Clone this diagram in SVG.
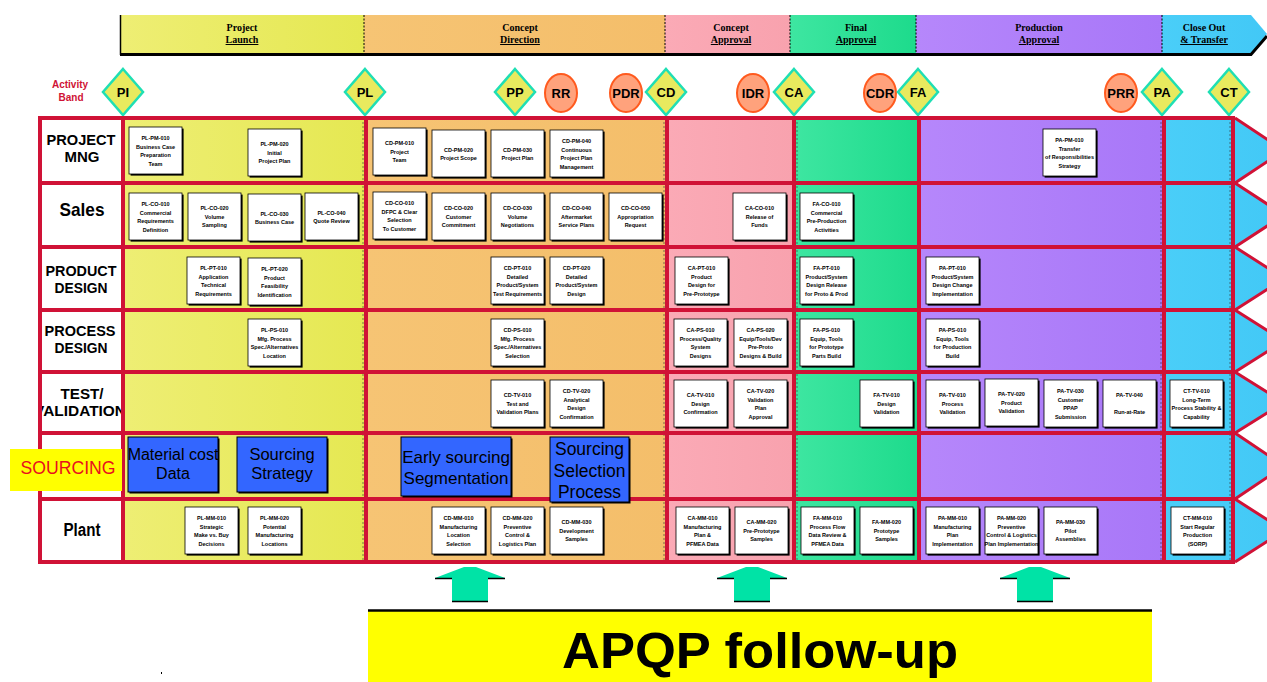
<svg xmlns="http://www.w3.org/2000/svg" width="1267" height="682" viewBox="0 0 1267 682">
<defs>
<linearGradient id="gY" x1="0" x2="1"><stop offset="0" stop-color="#EEEE74"/><stop offset="1" stop-color="#E5E852"/></linearGradient>
<linearGradient id="gO" x1="0" x2="1"><stop offset="0" stop-color="#F6C474"/><stop offset="1" stop-color="#F4BE6A"/></linearGradient>
<linearGradient id="gPk" x1="0" x2="1"><stop offset="0" stop-color="#FBAAB6"/><stop offset="1" stop-color="#F8A2AE"/></linearGradient>
<linearGradient id="gG" x1="0" x2="1"><stop offset="0" stop-color="#3EE6A1"/><stop offset="1" stop-color="#1DDB8C"/></linearGradient>
<linearGradient id="gPu" x1="0" x2="1"><stop offset="0" stop-color="#B687FB"/><stop offset="1" stop-color="#A877F8"/></linearGradient>
<linearGradient id="gB" x1="0" x2="1"><stop offset="0" stop-color="#4ACEF8"/><stop offset="1" stop-color="#42C8F6"/></linearGradient>
<g id="box"><rect x="1.6" y="1.6" width="53" height="47" fill="#000"/><rect width="53" height="47" fill="#fff" stroke="#000" stroke-width="0.8"/></g>
<clipPath id="lblclip"><rect x="42" y="118" width="79" height="444"/></clipPath>
</defs>
<style>
.bt{font-family:"Liberation Sans",Arial,sans-serif;font-size:5.5px;font-weight:bold;text-anchor:middle;fill:#000}
.hd{font-family:"Liberation Serif","Times New Roman",serif;font-size:10px;font-weight:bold;text-anchor:middle;fill:#000}
.lb{font-family:"Liberation Sans",Arial,sans-serif;font-weight:bold;text-anchor:middle;fill:#000}
.ms{font-family:"Liberation Sans",Arial,sans-serif;font-weight:bold;font-size:13px;text-anchor:middle;fill:#000}
.dia{fill:#E8EA5E;stroke:#1FDFB4;stroke-width:2.5}
.ov{fill:#FFA27C;stroke:#FF5A1E;stroke-width:2}
.red{stroke:#D01236;stroke-width:4;fill:none}
.thin{stroke:#333;stroke-width:1;stroke-dasharray:2 2;opacity:0.6}
.sb{font-family:"Liberation Sans",Arial,sans-serif;text-anchor:middle;fill:#000}
.blue{fill:#3366FF;stroke:#000;stroke-width:1}
.arr{fill:#00E3A6}
</style>
<rect width="1267" height="682" fill="#fff"/>

<g id="header">
<rect x="120" y="15" width="244" height="39" fill="url(#gY)"/>
<rect x="364" y="15" width="301" height="39" fill="url(#gO)"/>
<rect x="665" y="15" width="125" height="39" fill="url(#gPk)"/>
<rect x="790" y="15" width="126" height="39" fill="url(#gG)"/>
<rect x="916" y="15" width="246" height="39" fill="url(#gPu)"/>
<polygon points="1162,15 1251,15 1267,34 1251,54 1162,54" fill="url(#gB)"/>
<g stroke="#000" stroke-width="1" stroke-dasharray="2 1.5">
<line x1="364" y1="15" x2="364" y2="54"/><line x1="665" y1="15" x2="665" y2="54"/><line x1="790" y1="15" x2="790" y2="54"/><line x1="916" y1="15" x2="916" y2="54"/><line x1="1162" y1="15" x2="1162" y2="54"/>
</g>
<line x1="120.5" y1="15" x2="120.5" y2="55" stroke="#000" stroke-width="1.5"/>
<polyline points="120,54.5 1251,54.5 1267,36" stroke="#000" stroke-width="3" fill="none"/>
<text class="hd" x="242" y="31">Project</text><text class="hd" x="242" y="43" text-decoration="underline">Launch</text>
<text class="hd" x="520" y="31">Concept</text><text class="hd" x="520" y="43" text-decoration="underline">Direction</text>
<text class="hd" x="731" y="31">Concept</text><text class="hd" x="731" y="43" text-decoration="underline">Approval</text>
<text class="hd" x="856" y="31">Final</text><text class="hd" x="856" y="43" text-decoration="underline">Approval</text>
<text class="hd" x="1039" y="31">Production</text><text class="hd" x="1039" y="43" text-decoration="underline">Approval</text>
<text class="hd" x="1204" y="31">Close Out</text><text class="hd" x="1204" y="43" text-decoration="underline">&amp; Transfer</text>
</g>

<g id="activity-band">
<text x="70" y="88" font-family="Liberation Sans, Arial, sans-serif" font-size="10" font-weight="bold" fill="#D01236" text-anchor="middle">Activity</text>
<text x="71" y="101" font-family="Liberation Sans, Arial, sans-serif" font-size="10" font-weight="bold" fill="#D01236" text-anchor="middle">Band</text>
</g>

<g id="m-PI"><polygon class="dia" points="123,69 143,92 123,115 103,92"/><text class="ms" x="123" y="97">PI</text></g>
<g id="m-PL"><polygon class="dia" points="365,69 385,92 365,115 345,92"/><text class="ms" x="365" y="97">PL</text></g>
<g id="m-PP"><polygon class="dia" points="515,69 535,92 515,115 495,92"/><text class="ms" x="515" y="97">PP</text></g>
<g id="m-RR"><ellipse class="ov" cx="561" cy="93" rx="16" ry="19"/><text class="ms" x="561" y="98">RR</text></g>
<g id="m-PDR"><ellipse class="ov" cx="626" cy="93" rx="16" ry="19"/><text class="ms" x="626" y="98">PDR</text></g>
<g id="m-CD"><polygon class="dia" points="666,69 686,92 666,115 646,92"/><text class="ms" x="666" y="97">CD</text></g>
<g id="m-IDR"><ellipse class="ov" cx="753" cy="93" rx="16" ry="19"/><text class="ms" x="753" y="98">IDR</text></g>
<g id="m-CA"><polygon class="dia" points="794,69 814,92 794,115 774,92"/><text class="ms" x="794" y="97">CA</text></g>
<g id="m-CDR"><ellipse class="ov" cx="880" cy="93" rx="16" ry="19"/><text class="ms" x="880" y="98">CDR</text></g>
<g id="m-FA"><polygon class="dia" points="918,69 938,92 918,115 898,92"/><text class="ms" x="918" y="97">FA</text></g>
<g id="m-PRR"><ellipse class="ov" cx="1121" cy="93" rx="16" ry="19"/><text class="ms" x="1121" y="98">PRR</text></g>
<g id="m-PA"><polygon class="dia" points="1162,69 1182,92 1162,115 1142,92"/><text class="ms" x="1162" y="97">PA</text></g>
<g id="m-CT"><polygon class="dia" points="1229,69 1249,92 1229,115 1209,92"/><text class="ms" x="1229" y="97">CT</text></g>

<g id="grid">
<rect x="40" y="118" width="83" height="444" fill="#fff"/>
<rect x="123" y="118" width="243" height="444" fill="url(#gY)"/>
<rect x="366" y="118" width="301" height="444" fill="url(#gO)"/>
<rect x="667" y="118" width="127" height="444" fill="url(#gPk)"/>
<rect x="794" y="118" width="125" height="444" fill="url(#gG)"/>
<rect x="919" y="118" width="245" height="444" fill="url(#gPu)"/>
<polygon points="1164,118 1235,118 1284,150.5 1235,183 1284,215 1235,247 1284,278.5 1235,310 1284,341 1235,372 1284,402.5 1235,433 1284,466 1235,499 1284,530.5 1235,562 1164,562" fill="url(#gB)"/>
<g class="thin">
<line x1="363" y1="118" x2="363" y2="562"/><line x1="664" y1="118" x2="664" y2="562"/><line x1="797" y1="118" x2="797" y2="562"/><line x1="1161" y1="118" x2="1161" y2="562"/><line x1="1230" y1="118" x2="1230" y2="562"/>
</g>
<g class="red">
<line x1="38" y1="118" x2="1235" y2="118"/>
<line x1="40" y1="183" x2="1235" y2="183"/>
<line x1="40" y1="247" x2="1235" y2="247"/>
<line x1="40" y1="310" x2="1235" y2="310"/>
<line x1="40" y1="372" x2="1235" y2="372"/>
<line x1="40" y1="433" x2="1235" y2="433"/>
<line x1="40" y1="499" x2="1235" y2="499"/>
<line x1="38" y1="562" x2="1235" y2="562"/>
<line x1="40" y1="116" x2="40" y2="564"/>
<line x1="123" y1="118" x2="123" y2="562"/>
<line x1="366" y1="118" x2="366" y2="562"/>
<line x1="667" y1="118" x2="667" y2="562"/>
<line x1="794" y1="118" x2="794" y2="562"/>
<line x1="919" y1="118" x2="919" y2="562"/>
<line x1="1164" y1="118" x2="1164" y2="562"/>
<line x1="1233" y1="118" x2="1233" y2="562"/>
<polyline stroke-width="3" points="1235,118 1284,150.5 1235,183 1284,215 1235,247 1284,278.5 1235,310 1284,341 1235,372 1284,402.5 1235,433 1284,466 1235,499 1284,530.5 1235,562"/>
</g>
</g>

<g id="row-labels" clip-path="url(#lblclip)">
<text class="lb" x="81" y="145" font-size="15" textLength="69" lengthAdjust="spacingAndGlyphs">PROJECT</text>
<text class="lb" x="82" y="162" font-size="15" textLength="35" lengthAdjust="spacingAndGlyphs">MNG</text>
<text class="lb" x="82" y="216" font-size="19" textLength="45" lengthAdjust="spacingAndGlyphs">Sales</text>
<text class="lb" x="81" y="276" font-size="15" textLength="71" lengthAdjust="spacingAndGlyphs">PRODUCT</text>
<text class="lb" x="81" y="293" font-size="15" textLength="53" lengthAdjust="spacingAndGlyphs">DESIGN</text>
<text class="lb" x="80" y="336" font-size="15" textLength="71" lengthAdjust="spacingAndGlyphs">PROCESS</text>
<text class="lb" x="81" y="353" font-size="15" textLength="53" lengthAdjust="spacingAndGlyphs">DESIGN</text>
<text class="lb" x="82" y="399" font-size="15" textLength="43" lengthAdjust="spacingAndGlyphs">TEST/</text>
<text class="lb" x="80" y="416" font-size="15" textLength="92" lengthAdjust="spacingAndGlyphs">VALIDATION</text>
<text class="lb" x="82" y="536" font-size="18" textLength="37" lengthAdjust="spacingAndGlyphs">Plant</text>
</g>
<g id="label-sourcing">
<rect x="10" y="449" width="112" height="42" fill="#FFFF00"/>
<text x="68" y="474" font-family="Liberation Sans, Arial, sans-serif" font-size="19" fill="#E8101E" text-anchor="middle" textLength="95" lengthAdjust="spacingAndGlyphs">SOURCING</text>
</g>

<!-- PROJECT MNG -->
<g id="PL-PM-010" transform="translate(129,127)"><use href="#box"/><text class="bt"><tspan x="26.5" y="13">PL-PM-010</tspan><tspan x="26.5" y="21.5">Business Case</tspan><tspan x="26.5" y="30">Preparation</tspan><tspan x="26.5" y="38.5">Team</tspan></text></g>
<g id="PL-PM-020" transform="translate(248,129)"><use href="#box"/><text class="bt"><tspan x="26.5" y="17.25">PL-PM-020</tspan><tspan x="26.5" y="25.75">Initial</tspan><tspan x="26.5" y="34.25">Project Plan</tspan></text></g>
<g id="CD-PM-010" transform="translate(373,128)"><use href="#box"/><text class="bt"><tspan x="26.5" y="17.25">CD-PM-010</tspan><tspan x="26.5" y="25.75">Project</tspan><tspan x="26.5" y="34.25">Team</tspan></text></g>
<g id="CD-PM-020" transform="translate(432,130)"><use href="#box"/><text class="bt"><tspan x="26.5" y="21.5">CD-PM-020</tspan><tspan x="26.5" y="30">Project Scope</tspan></text></g>
<g id="CD-PM-030" transform="translate(491,130)"><use href="#box"/><text class="bt"><tspan x="26.5" y="21.5">CD-PM-030</tspan><tspan x="26.5" y="30">Project Plan</tspan></text></g>
<g id="CD-PM-040" transform="translate(550,130)"><use href="#box"/><text class="bt"><tspan x="26.5" y="13">CD-PM-040</tspan><tspan x="26.5" y="21.5">Continuous</tspan><tspan x="26.5" y="30">Project Plan</tspan><tspan x="26.5" y="38.5">Management</tspan></text></g>
<g id="PA-PM-010" transform="translate(1043,129)"><use href="#box"/><text class="bt"><tspan x="26.5" y="13">PA-PM-010</tspan><tspan x="26.5" y="21.5">Transfer</tspan><tspan x="26.5" y="30">of Responsibilities</tspan><tspan x="26.5" y="38.5">Strategy</tspan></text></g>

<!-- Sales -->
<g id="PL-CO-010" transform="translate(129,193)"><use href="#box"/><text class="bt"><tspan x="26.5" y="13">PL-CO-010</tspan><tspan x="26.5" y="21.5">Commercial</tspan><tspan x="26.5" y="30">Requirements</tspan><tspan x="26.5" y="38.5">Definition</tspan></text></g>
<g id="PL-CO-020" transform="translate(188,193)"><use href="#box"/><text class="bt"><tspan x="26.5" y="17.25">PL-CO-020</tspan><tspan x="26.5" y="25.75">Volume</tspan><tspan x="26.5" y="34.25">Sampling</tspan></text></g>
<g id="PL-CO-030" transform="translate(248,194)"><use href="#box"/><text class="bt"><tspan x="26.5" y="21.5">PL-CO-030</tspan><tspan x="26.5" y="30">Business Case</tspan></text></g>
<g id="PL-CO-040" transform="translate(305,193)"><use href="#box"/><text class="bt"><tspan x="26.5" y="21.5">PL-CO-040</tspan><tspan x="26.5" y="30">Quote Review</tspan></text></g>
<g id="CD-CO-010" transform="translate(373,192)"><use href="#box"/><text class="bt"><tspan x="26.5" y="13">CD-CO-010</tspan><tspan x="26.5" y="21.5">DFPC &amp; Clear</tspan><tspan x="26.5" y="30">Selection</tspan><tspan x="26.5" y="38.5">To Customer</tspan></text></g>
<g id="CD-CO-020" transform="translate(432,193)"><use href="#box"/><text class="bt"><tspan x="26.5" y="17.25">CD-CO-020</tspan><tspan x="26.5" y="25.75">Customer</tspan><tspan x="26.5" y="34.25">Commitment</tspan></text></g>
<g id="CD-CO-030" transform="translate(491,193)"><use href="#box"/><text class="bt"><tspan x="26.5" y="17.25">CD-CO-030</tspan><tspan x="26.5" y="25.75">Volume</tspan><tspan x="26.5" y="34.25">Negotiations</tspan></text></g>
<g id="CD-CO-040" transform="translate(550,193)"><use href="#box"/><text class="bt"><tspan x="26.5" y="17.25">CD-CO-040</tspan><tspan x="26.5" y="25.75">Aftermarket</tspan><tspan x="26.5" y="34.25">Service Plans</tspan></text></g>
<g id="CD-CO-050" transform="translate(609,193)"><use href="#box"/><text class="bt"><tspan x="26.5" y="17.25">CD-CO-050</tspan><tspan x="26.5" y="25.75">Appropriation</tspan><tspan x="26.5" y="34.25">Request</tspan></text></g>
<g id="CA-CO-010" transform="translate(733,193)"><use href="#box"/><text class="bt"><tspan x="26.5" y="17.25">CA-CO-010</tspan><tspan x="26.5" y="25.75">Release of</tspan><tspan x="26.5" y="34.25">Funds</tspan></text></g>
<g id="FA-CO-010" transform="translate(800,193)"><use href="#box"/><text class="bt"><tspan x="26.5" y="13">FA-CO-010</tspan><tspan x="26.5" y="21.5">Commercial</tspan><tspan x="26.5" y="30">Pre-Production</tspan><tspan x="26.5" y="38.5">Activities</tspan></text></g>

<!-- PRODUCT DESIGN -->
<g id="PL-PT-010" transform="translate(187,257)"><use href="#box"/><text class="bt"><tspan x="26.5" y="13">PL-PT-010</tspan><tspan x="26.5" y="21.5">Application</tspan><tspan x="26.5" y="30">Technical</tspan><tspan x="26.5" y="38.5">Requirements</tspan></text></g>
<g id="PL-PT-020" transform="translate(248,258)"><use href="#box"/><text class="bt"><tspan x="26.5" y="13">PL-PT-020</tspan><tspan x="26.5" y="21.5">Product</tspan><tspan x="26.5" y="30">Feasibility</tspan><tspan x="26.5" y="38.5">Identification</tspan></text></g>
<g id="CD-PT-010" transform="translate(491,257)"><use href="#box"/><text class="bt"><tspan x="26.5" y="13">CD-PT-010</tspan><tspan x="26.5" y="21.5">Detailed</tspan><tspan x="26.5" y="30">Product/System</tspan><tspan x="26.5" y="38.5">Test Requirements</tspan></text></g>
<g id="CD-PT-020" transform="translate(550,257)"><use href="#box"/><text class="bt"><tspan x="26.5" y="13">CD-PT-020</tspan><tspan x="26.5" y="21.5">Detailed</tspan><tspan x="26.5" y="30">Product/System</tspan><tspan x="26.5" y="38.5">Design</tspan></text></g>
<g id="CA-PT-010" transform="translate(675,257)"><use href="#box"/><text class="bt"><tspan x="26.5" y="13">CA-PT-010</tspan><tspan x="26.5" y="21.5">Product</tspan><tspan x="26.5" y="30">Design for</tspan><tspan x="26.5" y="38.5">Pre-Prototype</tspan></text></g>
<g id="FA-PT-010" transform="translate(800,257)"><use href="#box"/><text class="bt"><tspan x="26.5" y="13">FA-PT-010</tspan><tspan x="26.5" y="21.5">Product/System</tspan><tspan x="26.5" y="30">Design Release</tspan><tspan x="26.5" y="38.5">for Proto &amp; Prod</tspan></text></g>
<g id="PA-PT-010" transform="translate(926,257)"><use href="#box"/><text class="bt"><tspan x="26.5" y="13">PA-PT-010</tspan><tspan x="26.5" y="21.5">Product/System</tspan><tspan x="26.5" y="30">Design Change</tspan><tspan x="26.5" y="38.5">Implementation</tspan></text></g>

<!-- PROCESS DESIGN -->
<g id="PL-PS-010" transform="translate(248,319)"><use href="#box"/><text class="bt"><tspan x="26.5" y="13">PL-PS-010</tspan><tspan x="26.5" y="21.5">Mfg. Process</tspan><tspan x="26.5" y="30">Spec./Alternatives</tspan><tspan x="26.5" y="38.5">Location</tspan></text></g>
<g id="CD-PS-010" transform="translate(491,319)"><use href="#box"/><text class="bt"><tspan x="26.5" y="13">CD-PS-010</tspan><tspan x="26.5" y="21.5">Mfg. Process</tspan><tspan x="26.5" y="30">Spec./Alternatives</tspan><tspan x="26.5" y="38.5">Selection</tspan></text></g>
<g id="CA-PS-010" transform="translate(674,319)"><use href="#box"/><text class="bt"><tspan x="26.5" y="13">CA-PS-010</tspan><tspan x="26.5" y="21.5">Process/Quality</tspan><tspan x="26.5" y="30">System</tspan><tspan x="26.5" y="38.5">Designs</tspan></text></g>
<g id="CA-PS-020" transform="translate(734,319)"><use href="#box"/><text class="bt"><tspan x="26.5" y="13">CA-PS-020</tspan><tspan x="26.5" y="21.5">Equip/Tools/Dev</tspan><tspan x="26.5" y="30">Pre-Proto</tspan><tspan x="26.5" y="38.5">Designs &amp; Build</tspan></text></g>
<g id="FA-PS-010" transform="translate(800,319)"><use href="#box"/><text class="bt"><tspan x="26.5" y="13">FA-PS-010</tspan><tspan x="26.5" y="21.5">Equip, Tools</tspan><tspan x="26.5" y="30">for Prototype</tspan><tspan x="26.5" y="38.5">Parts Build</tspan></text></g>
<g id="PA-PS-010" transform="translate(926,319)"><use href="#box"/><text class="bt"><tspan x="26.5" y="13">PA-PS-010</tspan><tspan x="26.5" y="21.5">Equip, Tools</tspan><tspan x="26.5" y="30">for Production</tspan><tspan x="26.5" y="38.5">Build</tspan></text></g>

<!-- TEST / VALIDATION -->
<g id="CD-TV-010" transform="translate(491,380)"><use href="#box"/><text class="bt"><tspan x="26.5" y="17.25">CD-TV-010</tspan><tspan x="26.5" y="25.75">Test and</tspan><tspan x="26.5" y="34.25">Validation Plans</tspan></text></g>
<g id="CD-TV-020" transform="translate(550,380)"><use href="#box"/><text class="bt"><tspan x="26.5" y="13">CD-TV-020</tspan><tspan x="26.5" y="21.5">Analytical</tspan><tspan x="26.5" y="30">Design</tspan><tspan x="26.5" y="38.5">Confirmation</tspan></text></g>
<g id="CA-TV-010" transform="translate(674,380)"><use href="#box"/><text class="bt"><tspan x="26.5" y="17.25">CA-TV-010</tspan><tspan x="26.5" y="25.75">Design</tspan><tspan x="26.5" y="34.25">Confirmation</tspan></text></g>
<g id="CA-TV-020" transform="translate(734,380)"><use href="#box"/><text class="bt"><tspan x="26.5" y="13">CA-TV-020</tspan><tspan x="26.5" y="21.5">Validation</tspan><tspan x="26.5" y="30">Plan</tspan><tspan x="26.5" y="38.5">Approval</tspan></text></g>
<g id="FA-TV-010" transform="translate(860,380)"><use href="#box"/><text class="bt"><tspan x="26.5" y="17.25">FA-TV-010</tspan><tspan x="26.5" y="25.75">Design</tspan><tspan x="26.5" y="34.25">Validation</tspan></text></g>
<g id="PA-TV-010" transform="translate(926,380)"><use href="#box"/><text class="bt"><tspan x="26.5" y="17.25">PA-TV-010</tspan><tspan x="26.5" y="25.75">Process</tspan><tspan x="26.5" y="34.25">Validation</tspan></text></g>
<g id="PA-TV-020" transform="translate(985,379)"><use href="#box"/><text class="bt"><tspan x="26.5" y="17.25">PA-TV-020</tspan><tspan x="26.5" y="25.75">Product</tspan><tspan x="26.5" y="34.25">Validation</tspan></text></g>
<g id="PA-TV-030" transform="translate(1044,380)"><use href="#box"/><text class="bt"><tspan x="26.5" y="13">PA-TV-030</tspan><tspan x="26.5" y="21.5">Customer</tspan><tspan x="26.5" y="30">PPAP</tspan><tspan x="26.5" y="38.5">Submission</tspan></text></g>
<g id="PA-TV-040" transform="translate(1103,380)"><use href="#box"/><text class="bt"><tspan x="26.5" y="17.25">PA-TV-040</tspan><tspan x="26.5" y="34.25">Run-at-Rate</tspan></text></g>
<g id="CT-TV-010" transform="translate(1170,380)"><use href="#box"/><text class="bt"><tspan x="26.5" y="13">CT-TV-010</tspan><tspan x="26.5" y="21.5">Long-Term</tspan><tspan x="26.5" y="30">Process Stability &amp;</tspan><tspan x="26.5" y="38.5">Capability</tspan></text></g>

<!-- SOURCING -->
<g id="src-material-cost"><rect x="129.5" y="438.5" width="90" height="55" fill="#000"/><rect class="blue" x="128" y="437" width="90" height="55"/><text class="sb" font-size="16" x="173" y="460">Material cost</text><text class="sb" font-size="16" x="173" y="479">Data</text></g>
<g id="src-strategy"><rect x="238.5" y="438.5" width="90" height="55" fill="#000"/><rect class="blue" x="237" y="437" width="90" height="55"/><text class="sb" font-size="16.5" x="282" y="460">Sourcing</text><text class="sb" font-size="16.5" x="282" y="479">Strategy</text></g>
<g id="src-early"><rect x="402.5" y="438.5" width="110" height="59" fill="#000"/><rect class="blue" x="401" y="437" width="110" height="59"/><text class="sb" font-size="17" x="456" y="463">Early sourcing</text><text class="sb" font-size="17" x="456" y="484">Segmentation</text></g>
<g id="src-selection"><rect x="551.5" y="438.5" width="79" height="65" fill="#000"/><rect class="blue" x="550" y="437" width="79" height="65"/><text class="sb" font-size="17.5" x="589.5" y="455">Sourcing</text><text class="sb" font-size="17.5" x="589.5" y="477">Selection</text><text class="sb" font-size="17.5" x="589.5" y="498">Process</text></g>

<!-- Plant -->
<g id="PL-MM-010" transform="translate(185,507)"><use href="#box"/><text class="bt"><tspan x="26.5" y="13">PL-MM-010</tspan><tspan x="26.5" y="21.5">Strategic</tspan><tspan x="26.5" y="30">Make vs. Buy</tspan><tspan x="26.5" y="38.5">Decisions</tspan></text></g>
<g id="PL-MM-020" transform="translate(248,507)"><use href="#box"/><text class="bt"><tspan x="26.5" y="13">PL-MM-020</tspan><tspan x="26.5" y="21.5">Potential</tspan><tspan x="26.5" y="30">Manufacturing</tspan><tspan x="26.5" y="38.5">Locations</tspan></text></g>
<g id="CD-MM-010" transform="translate(432,507)"><use href="#box"/><text class="bt"><tspan x="26.5" y="13">CD-MM-010</tspan><tspan x="26.5" y="21.5">Manufacturing</tspan><tspan x="26.5" y="30">Location</tspan><tspan x="26.5" y="38.5">Selection</tspan></text></g>
<g id="CD-MM-020" transform="translate(491,507)"><use href="#box"/><text class="bt"><tspan x="26.5" y="13">CD-MM-020</tspan><tspan x="26.5" y="21.5">Preventive</tspan><tspan x="26.5" y="30">Control &amp;</tspan><tspan x="26.5" y="38.5">Logistics Plan</tspan></text></g>
<g id="CD-MM-030" transform="translate(550,507)"><use href="#box"/><text class="bt"><tspan x="26.5" y="17.25">CD-MM-030</tspan><tspan x="26.5" y="25.75">Development</tspan><tspan x="26.5" y="34.25">Samples</tspan></text></g>
<g id="CA-MM-010" transform="translate(676,507)"><use href="#box"/><text class="bt"><tspan x="26.5" y="13">CA-MM-010</tspan><tspan x="26.5" y="21.5">Manufacturing</tspan><tspan x="26.5" y="30">Plan &amp;</tspan><tspan x="26.5" y="38.5">PFMEA Data</tspan></text></g>
<g id="CA-MM-020" transform="translate(735,507)"><use href="#box"/><text class="bt"><tspan x="26.5" y="17.25">CA-MM-020</tspan><tspan x="26.5" y="25.75">Pre-Prototype</tspan><tspan x="26.5" y="34.25">Samples</tspan></text></g>
<g id="FA-MM-010" transform="translate(801,507)"><use href="#box"/><text class="bt"><tspan x="26.5" y="13">FA-MM-010</tspan><tspan x="26.5" y="21.5">Process Flow</tspan><tspan x="26.5" y="30">Data Review &amp;</tspan><tspan x="26.5" y="38.5">PFMEA Data</tspan></text></g>
<g id="FA-MM-020" transform="translate(860,507)"><use href="#box"/><text class="bt"><tspan x="26.5" y="17.25">FA-MM-020</tspan><tspan x="26.5" y="25.75">Prototype</tspan><tspan x="26.5" y="34.25">Samples</tspan></text></g>
<g id="PA-MM-010" transform="translate(926,507)"><use href="#box"/><text class="bt"><tspan x="26.5" y="13">PA-MM-010</tspan><tspan x="26.5" y="21.5">Manufacturing</tspan><tspan x="26.5" y="30">Plan</tspan><tspan x="26.5" y="38.5">Implementation</tspan></text></g>
<g id="PA-MM-020" transform="translate(985,507)"><use href="#box"/><text class="bt"><tspan x="26.5" y="13">PA-MM-020</tspan><tspan x="26.5" y="21.5">Preventive</tspan><tspan x="26.5" y="30">Control &amp; Logistics</tspan><tspan x="26.5" y="38.5">Plan Implementation</tspan></text></g>
<g id="PA-MM-030" transform="translate(1044,507)"><use href="#box"/><text class="bt"><tspan x="26.5" y="17.25">PA-MM-030</tspan><tspan x="26.5" y="25.75">Pilot</tspan><tspan x="26.5" y="34.25">Assemblies</tspan></text></g>
<g id="CT-MM-010" transform="translate(1171,507)"><use href="#box"/><text class="bt"><tspan x="26.5" y="13">CT-MM-010</tspan><tspan x="26.5" y="21.5">Start Regular</tspan><tspan x="26.5" y="30">Production</tspan><tspan x="26.5" y="38.5">(SORP)</tspan></text></g>

<g id="connectors">
<g id="arrow-1"><polygon class="arr" points="464,567 476,567 505,578 488,578 488,601 452,601 452,578 435,578"/><path d="M435,578.5 H452 M488,578.5 H505 M452,601.5 H488" stroke="#000" stroke-width="1.5" fill="none"/></g>
<g id="arrow-2"><polygon class="arr" points="746,567 758,567 787,578 770,578 770,601 734,601 734,578 717,578"/><path d="M717,578.5 H734 M770,578.5 H787 M734,601.5 H770" stroke="#000" stroke-width="1.5" fill="none"/></g>
<g id="arrow-3"><polygon class="arr" points="1029,567 1041,567 1070,578 1053,578 1053,601 1017,601 1017,578 1000,578"/><path d="M1000,578.5 H1017 M1053,578.5 H1070 M1017,601.5 H1053" stroke="#000" stroke-width="1.5" fill="none"/></g>
</g>

<g id="apqp">
<rect x="368" y="610" width="784" height="72" fill="#FFFF00"/>
<line x1="368" y1="610.5" x2="1152" y2="610.5" stroke="#000" stroke-width="2.5"/>
<text x="760" y="668" font-family="Liberation Sans, Arial, sans-serif" font-size="50" font-weight="bold" text-anchor="middle" textLength="396" lengthAdjust="spacingAndGlyphs" fill="#000">APQP follow-up</text>
</g>
<rect x="161" y="672" width="1" height="2" fill="#000"/>
</svg>
